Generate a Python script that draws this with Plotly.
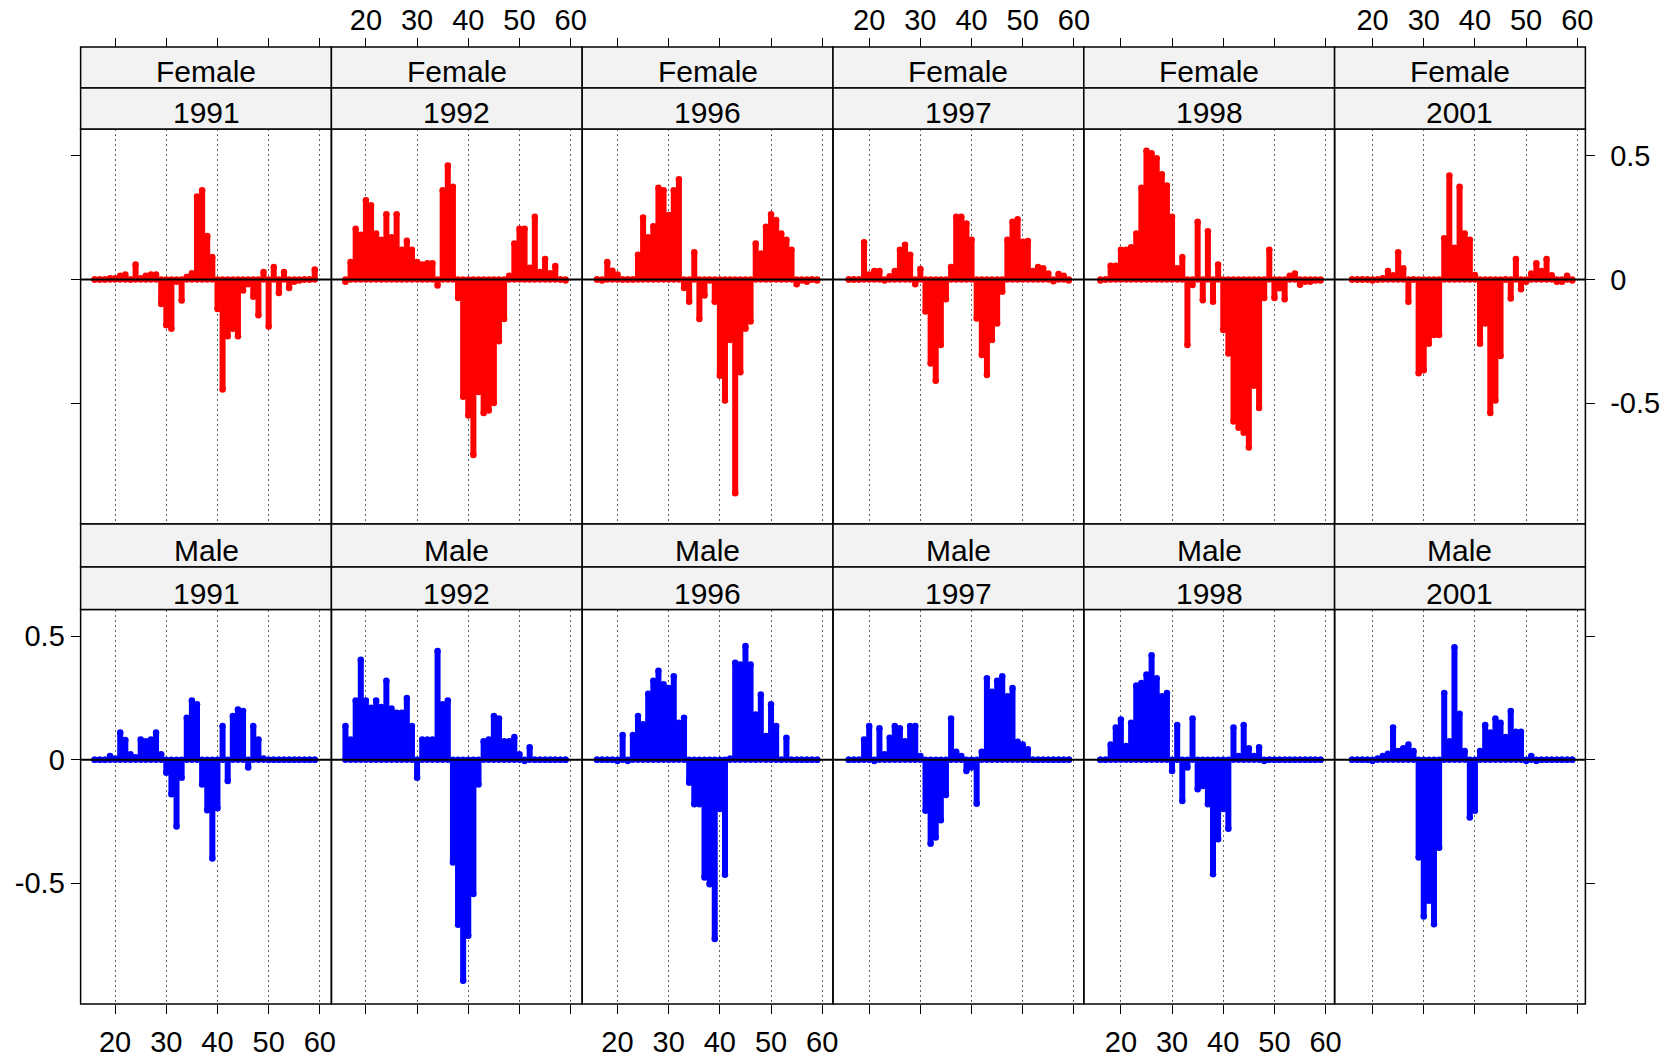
import plotly.graph_objects as go

ages = list(range(16, 60))
years = [1991, 1992, 1996, 1997, 1998, 2001]
x_ticks = [20, 30, 40, 50, 60]
y_ticks = [-0.5, 0, 0.5]
y_tick_text = ["-0.5", "0", "0.5"]

f1991 = [0, 0, 0, 0.005, 0.005, 0.015, 0.02, 0.0, 0.06, 0.005,
         0.015, 0.02, 0.02, -0.10, -0.185, -0.20, -0.01, -0.085, 0.01, 0.025,
         0.335, 0.36, 0.175, 0.09, -0.12, -0.445, -0.23, -0.20, -0.23, -0.045,
         -0.02, -0.07, -0.145, 0.03, -0.19, 0.05, -0.055, 0.03, -0.035, -0.01,
         -0.005, 0, 0, 0.04]
f1992 = [-0.01, 0.07, 0.205, 0.18, 0.32, 0.30, 0.185, 0.16, 0.263, 0.17,
         0.263, 0.12, 0.156, 0.12, 0.07, 0.06, 0.065, 0.065, -0.025, 0.36,
         0.46, 0.375, -0.075, -0.475, -0.55, -0.71, -0.455, -0.54, -0.53, -0.50,
         -0.25, -0.16, 0.015, 0.145, 0.205, 0.205, 0.047, 0.253, 0.03, 0.082,
         0.025, 0.054, 0, -0.005]
f1996 = [0, -0.005, 0.07, 0.035, 0.02, 0, 0, 0, 0.10, 0.25,
         0.17, 0.215, 0.37, 0.36, 0.26, 0.36, 0.405, -0.035, -0.09, 0.11,
         -0.16, -0.065, -0.005, -0.09, -0.39, -0.49, -0.245, -0.865, -0.375, -0.2,
         -0.17, 0.145, 0.105, 0.213, 0.263, 0.24, 0.186, 0.16, 0.12, -0.02,
         -0.005, -0.01, 0, -0.005]
f1997 = [0, 0, 0, 0.15, 0.02, 0.034, 0.034, -0.005, 0.013, 0.034,
         0.12, 0.14, 0.10, -0.02, 0.042, -0.13, -0.34, -0.41, -0.265, -0.08,
         0.05, 0.253, 0.253, 0.226, 0.16, -0.158, -0.306, -0.387, -0.245, -0.178,
         -0.05, 0.16, 0.233, 0.243, 0.152, 0.155, 0.034, 0.05, 0.045, 0.024,
         -0.008, 0.022, 0.015, -0.005]
f1998 = [-0.005, 0, 0.055, 0.055, 0.12, 0.12, 0.13, 0.185, 0.37, 0.52,
         0.51, 0.49, 0.425, 0.38, 0.253, 0.045, 0.09, -0.265, -0.023, 0.233,
         -0.084, 0.195, -0.09, 0.06, -0.205, -0.30, -0.575, -0.60, -0.62, -0.68,
         -0.43, -0.52, -0.075, 0.12, -0.075, -0.036, -0.08, 0.015, 0.024, -0.022,
         -0.01, -0.01, -0.005, -0.005]
f2001 = [0, 0, 0, 0, -0.005, 0, 0.005, 0.034, 0.017, 0.11,
         0.045, -0.09, 0, -0.38, -0.367, -0.26, -0.225, -0.225, 0.166, 0.42,
         0.128, 0.375, 0.186, 0.16, 0.018, -0.26, -0.178, -0.54, -0.49, -0.31,
         0, -0.077, 0.082, -0.04, -0.01, 0.024, 0.065, 0.034, 0.082, 0.017,
         -0.01, -0.01, 0.015, -0.005]

m1991 = [0, 0, 0, 0.015, 0.005, 0.11, 0.08, 0.022, 0.01, 0.082,
         0.075, 0.082, 0.11, 0.022, -0.053, -0.14, -0.27, -0.073, 0.17, 0.24,
         0.224, -0.10, -0.205, -0.40, -0.197, 0.136, -0.086, 0.177, 0.203, 0.197,
         -0.032, 0.136, 0.082, 0.005, 0, 0, 0, 0, 0, 0,
         0, 0, 0, 0]
m1992 = [0.136, 0.082, 0.24, 0.405, 0.24, 0.21, 0.24, 0.213, 0.32, 0.207,
         0.19, 0.19, 0.25, 0.136, -0.073, 0.082, 0.082, 0.082, 0.44, 0.224,
         0.24, -0.416, -0.668, -0.895, -0.713, -0.544, -0.10, 0.075, 0.082, 0.177,
         0.167, 0.075, 0.075, 0.092, 0.022, -0.005, 0.05, 0, 0, 0,
         0, 0, 0, 0]
m1996 = [0, 0, 0, 0, -0.005, 0.10, -0.005, 0.10, 0.177, 0.143,
         0.267, 0.32, 0.36, 0.305, 0.29, 0.338, 0.15, 0.17, -0.093, -0.18,
         -0.18, -0.477, -0.504, -0.726, -0.20, -0.466, 0.005, 0.392, 0.385, 0.46,
         0.385, 0.183, 0.264, 0.096, 0.224, 0.136, 0, 0.089, 0, 0,
         0, 0, 0, 0]
m1997 = [0, 0, 0, 0.082, 0.136, -0.005, 0.127, 0.022, 0.089, 0.136,
         0.127, 0.075, 0.136, 0.136, 0.015, -0.207, -0.34, -0.315, -0.245, -0.143,
         0.167, 0.032, 0.015, -0.046, -0.032, -0.178, 0.032, 0.33, 0.275, 0.32,
         0.338, 0.257, 0.29, 0.073, 0.062, 0.042, 0, 0, 0, 0,
         0, 0, 0, 0]
m1998 = [0, 0, 0.062, 0.13, 0.163, 0.055, 0.15, 0.30, 0.31, 0.345,
         0.423, 0.33, 0.257, 0.27, -0.046, 0.14, -0.167, -0.032, 0.167, -0.12,
         -0.107, -0.18, -0.464, -0.322, -0.20, -0.28, 0.13, 0.015, 0.14, 0.046,
         0.015, 0.05, -0.005, 0, 0, 0, 0, 0, 0, 0,
         0, 0, 0, 0]
m2001 = [0, 0, 0, 0, -0.005, 0.005, 0.015, 0.024, 0.13, 0.035,
         0.046, 0.062, 0.035, -0.396, -0.635, -0.571, -0.666, -0.356, 0.27, 0.075,
         0.455, 0.186, 0.035, -0.234, -0.207, 0.035, 0.14, 0.11, 0.167, 0.15,
         0.092, 0.197, 0.113, 0.113, -0.005, 0.015, -0.005, 0, 0, 0,
         0, 0, 0, 0]

female = [f1991, f1992, f1996, f1997, f1998, f2001]
male = [m1991, m1992, m1996, m1997, m1998, m2001]

W, H = 1674, 1060
FONT = "Liberation Sans, Arial, Helvetica, sans-serif"
FS = 29
FS_STRIP = 30
col_left = [81 + 252 * i for i in range(7)]
rows = [
    dict(label="Female", data=female, color="#FF0000", plot=(129, 524),
         strips=[(47, 88), (88, 129)], tshift=-4),
    dict(label="Male", data=male, color="#0000FF", plot=(609.5, 1004),
         strips=[(524, 567), (567, 609.5)], tshift=-5),
]
PX_PER_YEAR = 252 / 49.0
col_shift_px = [0, 0, 0.8, 1.7, 2.6, 3.5]
x_ranges = [[13.26 - s / PX_PER_YEAR, 62.26 - s / PX_PER_YEAR] for s in col_shift_px]
y_range = [-0.989, 0.608]


def px(x):
    return x / W


def py(y):
    return 1 - y / H


fig = go.Figure()
layout = dict(
    width=W, height=H, margin=dict(l=0, r=0, t=0, b=0),
    paper_bgcolor="white", plot_bgcolor="rgba(0,0,0,0)", showlegend=False,
    font=dict(family=FONT, size=FS, color="black"),
)
shapes = []
annotations = []

for r, row in enumerate(rows):
    for c in range(6):
        n = r * 6 + c + 1
        sfx = "" if n == 1 else str(n)
        vals = row["data"][c]
        xs, ys = [], []
        for a, v in zip(ages, vals):
            xs += [a, a, None]
            ys += [0, v, None]
        fig.add_trace(go.Scatter(
            x=xs, y=ys, mode="lines+markers", xaxis="x" + sfx, yaxis="y" + sfx,
            line=dict(color=row["color"], width=6),
            marker=dict(color=row["color"], size=6.5, line=dict(width=0)),
            hoverinfo="skip", showlegend=False))
        xa = dict(
            domain=[px(col_left[c]), px(col_left[c + 1])], range=x_ranges[c], anchor="y" + sfx,
            tickmode="array", tickvals=x_ticks, ticktext=[str(t) for t in x_ticks],
            showgrid=True, gridcolor="#606060", gridwidth=1.3, griddash="2px,3px",
            zeroline=False, showline=False,
            ticks="", showticklabels=False, tickfont=dict(size=FS, family=FONT),
        )
        if r == 1:
            xa.update(ticks="outside", ticklen=9, tickwidth=1.3, tickcolor="black",
                      showticklabels=(c % 2 == 0), side="bottom", ticklabelstandoff=3)
        ya = dict(
            domain=[py(row["plot"][1]), py(row["plot"][0])], range=y_range, anchor="x" + sfx,
            tickmode="array", tickvals=y_ticks, ticktext=y_tick_text,
            showgrid=False, zeroline=False, showline=False,
            ticks="", showticklabels=False, tickfont=dict(size=FS, family=FONT),
        )
        if c == 0:
            ya.update(side="left", ticks="outside", ticklen=9, tickwidth=1.3, tickcolor="black",
                      showticklabels=(r == 1))
        if c == 5:
            ya.update(side="right", ticks="outside", ticklen=9, tickwidth=1.3, tickcolor="black",
                      showticklabels=(r == 0), ticklabelstandoff=9)
        layout["xaxis" + sfx] = xa
        layout["yaxis" + sfx] = ya
        # reference line at zero
        shapes.append(dict(type="line", xref="x" + sfx + " domain", yref="y" + sfx,
                           x0=0, x1=1, y0=0, y1=0, line=dict(color="black", width=2), layer="above"))
        # panel border
        shapes.append(dict(type="rect", xref="paper", yref="paper",
                           x0=px(col_left[c]), x1=px(col_left[c + 1]),
                           y0=py(row["plot"][1]), y1=py(row["plot"][0]),
                           line=dict(color="black", width=1.5), fillcolor="rgba(0,0,0,0)", layer="above"))
        # strips
        for (s0, s1), txt in zip(row["strips"], [row["label"], str(years[c])]):
            shapes.append(dict(type="rect", xref="paper", yref="paper",
                               x0=px(col_left[c]), x1=px(col_left[c + 1]), y0=py(s1), y1=py(s0),
                               fillcolor="#F2F2F2", line=dict(color="black", width=1.5), layer="above"))
            annotations.append(dict(xref="paper", yref="paper", x=px((col_left[c] + col_left[c + 1]) / 2),
                                    y=py((s0 + s1) / 2), text=txt, showarrow=False,
                                    xanchor="center", yanchor="middle", yshift=row["tshift"],
                                    font=dict(size=FS_STRIP, family=FONT, color="black")))

# top axes above the strips (one per column)
for c in range(6):
    n = 13 + c
    top_y = rows[0]["strips"][0][0]
    fig.add_trace(go.Scatter(x=[30], y=[0], mode="markers", xaxis="x%d" % n,
                             yaxis="y" + ("" if c == 0 else str(c + 1)),
                             marker=dict(opacity=0), hoverinfo="skip", showlegend=False))
    layout["xaxis%d" % n] = dict(
        domain=[px(col_left[c]), px(col_left[c + 1])], range=x_ranges[c], anchor="free", position=py(top_y),
        side="top", tickmode="array", tickvals=x_ticks, ticktext=[str(t) for t in x_ticks],
        ticks="outside", ticklen=9, tickwidth=1.3, tickcolor="black", showticklabels=(c % 2 == 1),
        ticklabelstandoff=-4,
        showgrid=False, zeroline=False, showline=False, tickfont=dict(size=FS, family=FONT),
    )

layout["shapes"] = shapes
layout["annotations"] = annotations
fig.update_layout(**layout)
fig.write_html("out.html")
